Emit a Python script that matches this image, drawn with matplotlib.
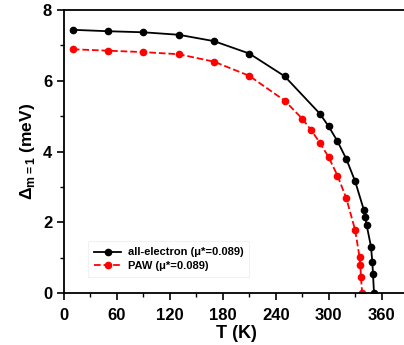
import numpy as np
import matplotlib
matplotlib.use("Agg")
import matplotlib.pyplot as plt
from matplotlib.ticker import MultipleLocator

# all-electron gap vs temperature
t_ae = [10, 50, 90, 130, 170, 210, 250, 290, 300, 310, 320, 330, 340, 341.5, 343, 348, 349.5, 350.3, 351.4]
d_ae = [7.44, 7.40, 7.37, 7.30, 7.12, 6.77, 6.13, 5.07, 4.71, 4.29, 3.79, 3.16, 2.34, 2.15, 1.93, 1.31, 0.88, 0.53, 0.0]

# PAW gap vs temperature
t_paw = [10, 50, 90, 130, 170, 210, 250, 270, 280, 290, 300, 310, 320, 330, 335, 336, 336.6, 338]
d_paw = [6.89, 6.85, 6.81, 6.75, 6.54, 6.14, 5.44, 4.93, 4.61, 4.25, 3.84, 3.32, 2.68, 1.78, 1.02, 0.78, 0.45, 0.0]

plt.rcParams['font.family'] = 'Liberation Sans'
plt.rcParams['font.weight'] = 'bold'
plt.rcParams['mathtext.fontset'] = 'custom'
plt.rcParams['mathtext.rm'] = 'Liberation Sans'
plt.rcParams['mathtext.bf'] = 'Liberation Sans:bold'

fig = plt.figure(figsize=(4.04, 3.45), dpi=100)
ax = fig.add_axes([64/404, 1-293/345, 1.01-64/404, (293-10)/345])

ax.plot(t_ae, d_ae, "k-", marker="o", ms=4.5, lw=1.3, label="all-electron (\u03bc*=0.089)")
ax.plot(t_paw, d_paw, "r--", marker="o", ms=4.5, lw=1.3, label="PAW (\u03bc*=0.089)")

ax.set_xlim(0, 390)
ax.set_ylim(0, 8)
ax.xaxis.set_major_locator(MultipleLocator(60))
ax.xaxis.set_minor_locator(MultipleLocator(30))
ax.yaxis.set_major_locator(MultipleLocator(2))
ax.yaxis.set_minor_locator(MultipleLocator(1))
ax.tick_params(which="major", direction="out", length=5, width=1.2, labelsize=12, top=False, right=False)
ax.tick_params(axis="x", which="major", pad=6)
ax.tick_params(which="minor", direction="out", length=3, width=1.0, top=False, right=False)
for s in ax.spines.values():
    s.set_linewidth(1.3)

ax.set_xlabel("T (K)", fontsize=13, fontweight="bold", labelpad=1.5)
ax.set_ylabel(r"$\mathbf{\Delta}_{\mathrm{m{=}1}}$ (meV)", fontsize=12.5, fontweight="bold", labelpad=4)

leg = ax.legend(loc="lower left", bbox_to_anchor=(0.07, 0.057), borderaxespad=0, fontsize=8,
                frameon=True, fancybox=False, handlelength=2.4, handletextpad=0.6,
                borderpad=0.55, labelspacing=0.3)
leg.get_frame().set_edgecolor("#eeeeee")
leg.get_frame().set_linewidth(0.8)

fig.savefig("out.png", dpi=100)
